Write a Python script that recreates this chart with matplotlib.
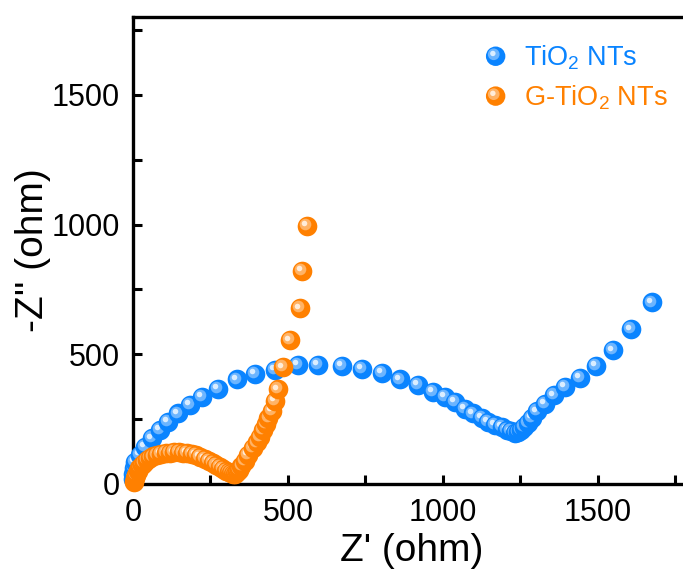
import matplotlib
matplotlib.use("Agg")
import matplotlib.pyplot as plt
import matplotlib.patches as mpatches
from matplotlib.lines import Line2D
from matplotlib.legend_handler import HandlerBase
from matplotlib.transforms import offset_copy
from matplotlib.colors import to_rgb
import numpy as np

plt.rcParams['font.family'] = ['Liberation Sans', 'DejaVu Sans']
plt.rcParams['mathtext.fontset'] = 'custom'
plt.rcParams['mathtext.rm'] = 'Liberation Sans'
plt.rcParams['mathtext.default'] = 'regular'

# Nyquist data (Z', -Z'') in ohm
tio2_re = [0, 1, 2, 6, 23, 39, 61, 87, 113, 145, 184, 223, 274, 335, 394, 458, 532,
           597, 674, 739, 803, 861, 919, 968, 1006, 1039, 1071, 1097, 1126, 1145, 1168,
           1190, 1206, 1220, 1232, 1242, 1252, 1262, 1274, 1287, 1303, 1329, 1358, 1394,
           1442, 1494, 1548, 1606, 1674]
tio2_im = [20, 40, 62, 86, 112, 144, 176, 208, 240, 272, 304, 336, 368, 403, 426, 441, 458,
           460, 454, 445, 428, 403, 381, 355, 336, 317, 291, 272, 256, 240, 227,
           219, 210, 203, 198, 200, 208, 220, 236, 255, 280, 310, 342, 373,
           408, 454, 515, 596, 700]

g_re = [3, 6, 10, 15, 21, 28, 36, 45, 55, 66, 78, 91, 105, 119, 133, 147, 161, 175, 189,
        203, 217, 231, 244, 257, 269, 280, 291, 300, 309, 316, 322, 328, 334, 341, 350,
        360, 371, 386, 400, 411, 420, 428, 437, 447, 458, 468, 484, 506, 539, 545, 561]
g_im = [8, 22, 36, 49, 61, 72, 82, 91, 99, 106, 111, 116, 119, 121, 122, 122, 121, 119, 116,
        111, 105, 98, 90, 82, 73, 65, 57, 50, 45, 41, 39, 40, 45, 55, 70,
        88, 112, 138, 160, 183, 207, 230, 255, 283, 320, 365, 450, 554, 677, 823, 996]

labels = ['TiO$_2$ NTs', 'G-TiO$_2$ NTs']
blue = '#0A84FF'
orange = '#FF8000'
S = 200


def lighter(c, f):
    r, g, b = to_rgb(c)
    return (r + (1 - r) * f, g + (1 - g) * f, b + (1 - b) * f)


fig = plt.figure(figsize=(6.83, 5.77), dpi=100)
ax = fig.add_axes([0.1947, 0.1612, 0.817, 0.809])

off1 = offset_copy(ax.transData, fig=fig, x=-1.4, y=1.4, units='points')
off2 = offset_copy(ax.transData, fig=fig, x=-2.0, y=2.0, units='points')


def spheres(xs, ys, color, z0):
    # each ball drawn whole before the next, like the original
    for i, (x, y) in enumerate(zip(xs, ys)):
        z = z0 + i * 0.01
        ax.scatter([x], [y], s=S, color=color, lw=0, zorder=z, clip_on=False)
        ax.scatter([x], [y], s=S * 0.35, color=lighter(color, 0.4), lw=0,
                   zorder=z + 0.003, transform=off1, clip_on=False)
        ax.scatter([x], [y], s=S * 0.08, color=lighter(color, 0.85), lw=0,
                   zorder=z + 0.006, transform=off2, clip_on=False)


spheres(tio2_re, tio2_im, blue, 3)
spheres(g_re, g_im, orange, 5)


class SphereHandler(HandlerBase):
    def create_artists(self, legend, orig_handle, xdescent, ydescent,
                       width, height, fontsize, trans):
        c = orig_handle.get_color()
        cx = width / 2 - xdescent
        cy = height / 2 - ydescent
        r = 7.0
        a = mpatches.Circle((cx, cy), r, facecolor=c, lw=0, transform=trans)
        b = mpatches.Circle((cx - 1.4, cy + 1.4), r * 0.6, facecolor=lighter(c, 0.4),
                            lw=0, transform=trans)
        d = mpatches.Circle((cx - 2.0, cy + 2.0), r * 0.28, facecolor=lighter(c, 0.85),
                            lw=0, transform=trans)
        return [a, b, d]


handles = [Line2D([], [], color=blue, label=labels[0]),
           Line2D([], [], color=orange, label=labels[1])]
leg = ax.legend(handles=handles, handler_map={Line2D: SphereHandler()},
                loc='upper left', bbox_to_anchor=(0.69, 0.943), bbox_transform=fig.transFigure,
                frameon=False, fontsize=19.5, handlelength=1.0, handletextpad=0.55,
                labelspacing=0.42, borderaxespad=0)
for t, c in zip(leg.get_texts(), [blue, orange]):
    t.set_color(c)

ax.set_xlim(0, 1800)
ax.set_ylim(0, 1800)
ax.set_xticks([0, 500, 1000, 1500])
ax.set_yticks([0, 500, 1000, 1500])
ax.set_xticks(np.arange(250, 1800, 500), minor=True)
ax.set_yticks(np.arange(250, 1800, 500), minor=True)
ax.tick_params(which='both', direction='in', length=6.5, width=2.2, top=False, right=False,
               labelsize=22)
ax.tick_params(axis='y', pad=9.5)
ax.tick_params(axis='x', pad=10)
for sp in ax.spines.values():
    sp.set_linewidth(2.4)

ax.set_xlabel("Z' (ohm)", fontsize=28, labelpad=4)
ax.set_ylabel("-Z'' (ohm)", fontsize=28, labelpad=0)

fig.savefig('out.png', dpi=100)
